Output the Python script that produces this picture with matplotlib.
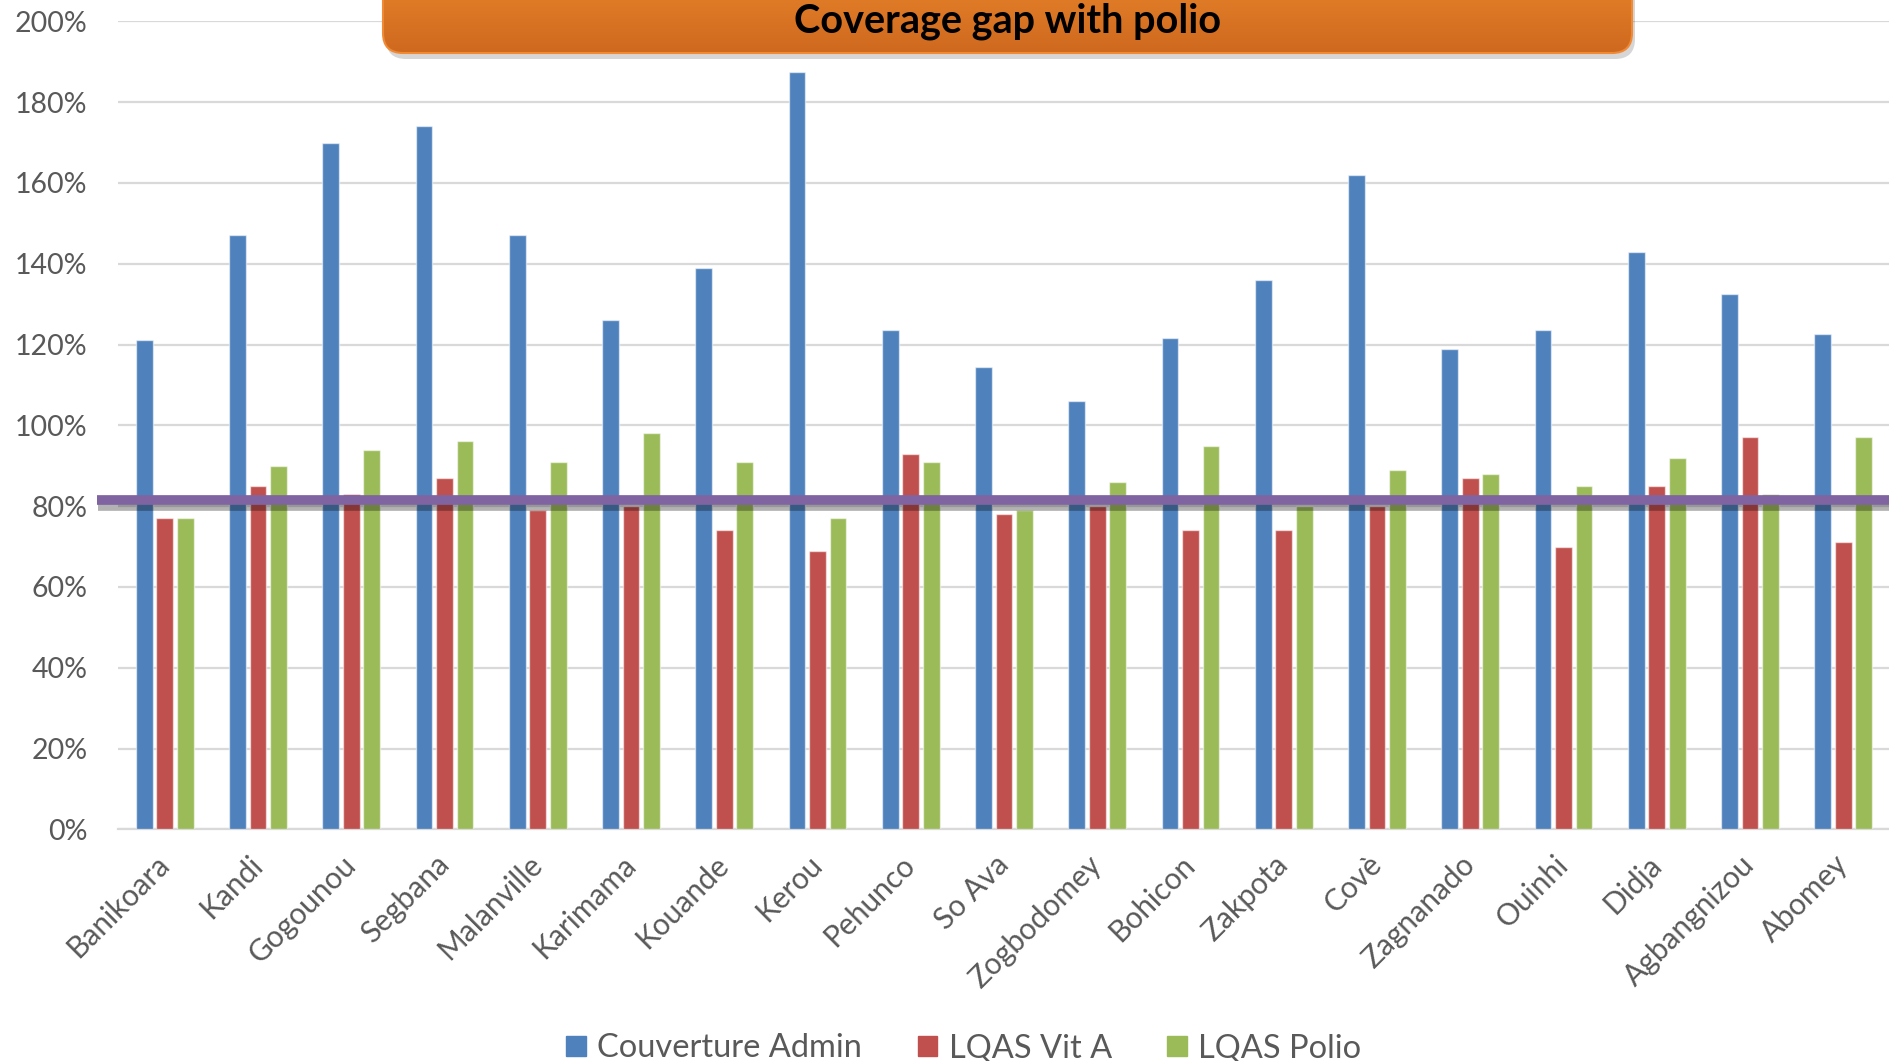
import matplotlib
matplotlib.use("Agg")
import matplotlib.pyplot as plt
import matplotlib.patheffects as pe
import matplotlib.transforms as mtransforms
import numpy as np
from matplotlib.patches import FancyBboxPatch, Patch
from matplotlib.ticker import PercentFormatter

"""
data read off the reference chart
"""

communes = ["Banikoara", "Kandi", "Gogounou", "Segbana", "Malanville", "Karimama",
            "Kouande", "Kerou", "Pehunco", "So Ava", "Zogbodomey", "Bohicon",
            "Zakpota", "Covè", "Zagnanado", "Ouinhi", "Didja", "Agbangnizou", "Abomey"]

couverture_admin = [1.21, 1.47, 1.70, 1.74, 1.47, 1.26, 1.39, 1.875, 1.235, 1.145,
                    1.06, 1.215, 1.36, 1.62, 1.19, 1.235, 1.43, 1.325, 1.225]
lqas_vit_a = [0.77, 0.85, 0.83, 0.87, 0.79, 0.80, 0.74, 0.69, 0.93, 0.78,
              0.80, 0.74, 0.74, 0.80, 0.87, 0.70, 0.85, 0.97, 0.71]
lqas_polio = [0.77, 0.90, 0.94, 0.96, 0.91, 0.98, 0.91, 0.77, 0.91, 0.79,
              0.86, 0.95, 0.80, 0.89, 0.88, 0.85, 0.92, 0.83, 0.97]

series_names = ["Couverture Admin", "LQAS Vit A", "LQAS Polio"]
target = 0.815
y_ticks = [0.0, 0.2, 0.4, 0.6, 0.8, 1.0, 1.2, 1.4, 1.6, 1.8, 2.0]
title = "Coverage gap with polio"

blue = "#4F81BD"
red = "#C0504D"
green = "#9BBB59"
purple = "#8064A2"
grey_txt = "#595959"
grid_col = "#D9D9D9"

plt.rcParams["font.family"] = ["Lato", "DejaVu Sans"]

W, H = 1890, 1061
fig = plt.figure(figsize=(W / 100, H / 100), dpi=100)
ax = fig.add_axes([118 / W, 1 - 829.3 / H, 1 - 118 / W, (829.3 - 21.3) / H])

x = np.arange(len(communes))
bw = 0.18
step = 0.22
for k, (vals, col) in enumerate(zip([couverture_admin, lqas_vit_a, lqas_polio],
                                    [blue, red, green])):
    ax.bar(x + (k - 1) * step, vals, width=bw, color=col,
           edgecolor=(1, 1, 1, 0.55), linewidth=1.0, zorder=3)

ax.set_xlim(-0.5, len(communes) - 0.5)
ax.set_ylim(0, 2.0)
ax.set_yticks(y_ticks)
ax.yaxis.set_major_formatter(PercentFormatter(1.0, decimals=0))
ax.grid(axis="y", color=grid_col, linewidth=1.6, zorder=0)
ax.set_axisbelow(True)
for s in ["top", "right", "left"]:
    ax.spines[s].set_visible(False)
ax.spines["bottom"].set_color(grid_col)
ax.spines["bottom"].set_linewidth(1.6)
ax.tick_params(axis="y", length=0, pad=22, labelsize=20.5, labelcolor=grey_txt)
ax.tick_params(axis="x", length=0, pad=15, labelsize=21.5, labelcolor=grey_txt)
ax.set_xticks(x)
ax.set_xticklabels(communes, rotation=45, ha="right", va="top",
                   rotation_mode="anchor")
shift = mtransforms.ScaledTranslation(-10 / 100, 0, fig.dpi_scale_trans)
for lab in ax.get_xticklabels():
    lab.set_transform(lab.get_transform() + shift)

# target line with drop shadow
ax.axhline(target, xmin=-0.012, xmax=1.0, color=purple, linewidth=7,
           clip_on=False, zorder=5, solid_capstyle="butt",
           path_effects=[pe.SimpleLineShadow(offset=(1, -4), shadow_color="k",
                                             alpha=0.3), pe.Normal()])

# legend
handles = [Patch(color=c) for c in [blue, red, green]]
fig.legend(handles, series_names, loc="lower center", ncol=3,
           bbox_to_anchor=(0.51, -0.03), frameon=False, fontsize=23.5,
           handlelength=0.6, handleheight=0.6, handletextpad=0.35,
           columnspacing=1.7, labelcolor=grey_txt)

# orange title banner with gradient
tax = fig.add_axes([0, 0, 1, 1], zorder=10)
tax.set_xlim(0, W)
tax.set_ylim(0, H)
tax.axis("off")
bx0, bx1, by0, by1 = 383, 1632, 1008, 1090
shadow = FancyBboxPatch((bx0 + 3, by0 - 6), bx1 - bx0, by1 - by0,
                        boxstyle="round,pad=0,rounding_size=20",
                        facecolor="k", edgecolor="none", alpha=0.16, zorder=1)
tax.add_patch(shadow)
box = FancyBboxPatch((bx0, by0), bx1 - bx0, by1 - by0,
                     boxstyle="round,pad=0,rounding_size=20",
                     facecolor="none", edgecolor="#F08A35", linewidth=1.5,
                     zorder=3)
tax.add_patch(box)
grad = np.linspace(0, 1, 100).reshape(-1, 1)
top_c = np.array([0.91, 0.52, 0.17])
bot_c = np.array([0.81, 0.41, 0.12])
img = grad[..., None] * top_c + (1 - grad[..., None]) * bot_c
im = tax.imshow(img, extent=(bx0, bx1, by0, by1), origin="lower",
                aspect="auto", interpolation="bilinear", zorder=2)
im.set_clip_path(box)
tax.text((bx0 + bx1) / 2, 1040, title, ha="center", va="center",
         fontsize=28.5, fontweight="bold", color="black", zorder=4)

fig.savefig("out.png", dpi=100)
